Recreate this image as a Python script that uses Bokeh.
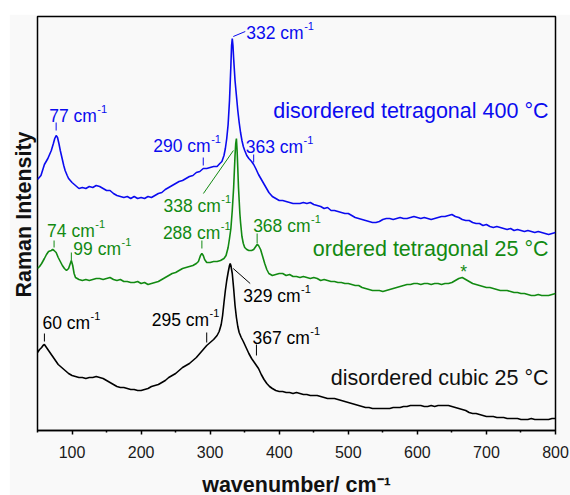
import numpy as np
from bokeh.plotting import figure
from bokeh.models import Range1d, FixedTicker, Label, Title
from bokeh.embed import file_html
from bokeh.resources import INLINE

# ---------------- data ----------------
tail_wn = list(range(405, 801, 5))

blue_wn = [50, 55, 60, 65, 70, 73, 75, 77, 79, 81, 83, 85, 88, 90, 93, 95, 100, 105, 110, 115,
           120, 125, 130, 135, 140, 145, 150, 155, 160, 165, 170, 175, 180, 185, 190, 195, 200,
           205, 210, 215, 220, 225, 230, 235, 240, 245, 250, 255, 260, 265, 270, 275, 280, 285,
           290, 295, 300, 305, 310, 314, 317, 320, 322, 324, 326, 328, 330, 331, 332, 333, 334,
           336, 338, 340, 342, 344, 346, 348, 350, 353, 356, 360, 363, 366, 370, 375, 380, 385,
           390, 395, 400] + tail_wn
blue_int = [251, 255, 266, 272, 280, 287, 292, 295, 293, 287, 280, 274, 265, 260, 255, 252, 248,
            245, 242, 243, 242, 244, 243, 245, 244, 242, 240, 240, 237, 235, 234, 233, 234, 232,
            234, 232, 233, 232, 234, 233, 235, 237, 238, 241, 243, 245, 247, 249, 250, 252, 254,
            255, 258, 259, 262, 262, 263, 264, 264, 267, 269, 275, 282, 292, 306, 330, 365, 385,
            392, 385, 372, 350, 335, 320, 308, 298, 290, 284, 280, 275, 272, 269, 266, 262, 256,
            250, 244, 238, 234, 232, 230,
            230, 229, 228, 227, 227, 227, 228, 227, 228, 226, 225, 224, 222, 223, 220, 220, 219,
            218, 217, 217, 215, 213, 212, 211, 210, 209, 208, 208, 209, 211, 212, 212, 211, 212,
            213, 212, 212, 213, 214, 213, 212, 213, 212, 211, 212, 213, 214, 214, 215, 216, 214,
            213, 211, 210, 210, 208, 207, 207, 205, 206, 204, 203, 204, 203, 202, 201, 202, 200,
            201, 200, 199, 200, 199, 198, 199, 198, 197, 196, 197, 198]

green_wn = [50, 53, 56, 60, 63, 66, 70, 72, 74, 77, 80, 83, 86, 89, 92, 95, 97, 99, 101, 103, 105,
            110, 115, 120, 125, 130, 135, 140, 145, 150, 155, 160, 165, 170, 175, 180, 185, 190,
            195, 200, 205, 210, 215, 220, 225, 230, 235, 240, 245, 250, 255, 260, 265, 270, 275,
            280, 283, 286, 288, 290, 292, 295, 300, 305, 310, 315, 320, 323, 326, 328, 330, 332,
            334, 336, 337, 338, 339, 340, 341, 342, 343, 344, 346, 348, 350, 353, 356, 360, 363,
            366, 368, 370, 373, 376, 379, 382, 385, 390, 395, 400] + tail_wn
green_int = [162, 164, 167, 172, 176, 179, 180, 181, 180, 178, 173, 169, 165, 162, 160, 162, 166,
             170, 165, 157, 153, 151, 150, 151, 150, 151, 152, 152, 151, 152, 153, 151, 150, 151,
             149, 149, 148, 148, 149, 147, 148, 146, 147, 148, 149, 151, 153, 155, 157, 158, 160,
             162, 163, 164, 165, 167, 169, 175, 177, 175, 171, 168, 168, 169, 169, 170, 172, 175,
             183, 192, 202, 220, 243, 275, 287, 292, 280, 262, 243, 230, 217, 208, 194, 187, 183,
             181, 180, 180, 181, 184, 186, 185, 181, 174, 167, 161, 157, 155, 156, 157,
             157, 155, 156, 154, 154, 153, 154, 153, 152, 153, 152, 150, 151, 150, 149, 149, 148,
             148, 147, 147, 146, 145, 145, 143, 142, 141, 140, 140, 140, 139, 140, 141, 142, 143,
             144, 145, 146, 146, 147, 147, 146, 147, 147, 146, 147, 147, 146, 147, 147, 148, 150,
             152, 153, 151, 149, 147, 146, 145, 144, 143, 143, 142, 141, 140, 140, 140, 139, 138,
             138, 137, 137, 136, 135, 135, 136, 135, 135, 135, 136, 137]

black_wn = [50, 53, 56, 58, 60, 62, 65, 68, 71, 74, 77, 80, 85, 90, 95, 100, 105, 110, 115, 120,
            125, 130, 135, 140, 145, 150, 155, 160, 165, 170, 175, 180, 185, 190, 195, 200, 205,
            210, 215, 220, 225, 230, 235, 240, 245, 250, 255, 260, 265, 270, 275, 280, 285, 290,
            295, 300, 305, 310, 313, 316, 318, 320, 322, 324, 326, 328, 329, 330, 332, 334, 336,
            338, 340, 342, 345, 348, 352, 356, 360, 363, 366, 370, 374, 378, 382, 386, 390, 395,
            400] + tail_wn
black_int = [78, 81, 83, 85, 86, 84, 81, 78, 75, 72, 69, 66, 63, 60, 57, 55, 54, 53, 53, 52, 53,
             53, 54, 53, 52, 50, 48, 46, 44, 43, 43, 42, 41, 41, 40, 40, 41, 42, 44, 45, 46, 48,
             50, 53, 55, 57, 60, 63, 65, 67, 70, 73, 77, 81, 85, 88, 91, 95, 99, 106, 115, 128,
             140, 150, 158, 165, 167, 165, 157, 142, 125, 113, 104, 98, 93, 89, 83, 77, 72, 69,
             66, 62, 56, 51, 47, 44, 42, 40, 39,
             39, 38, 38, 37, 38, 37, 36, 36, 35, 35, 35, 34, 33, 32, 32, 32, 31, 30, 29, 28, 27,
             26, 25, 24, 23, 23, 22, 22, 22, 22, 22, 22, 23, 23, 23, 24, 24, 25, 25, 25, 25, 24,
             24, 25, 24, 25, 25, 25, 25, 24, 23, 22, 21, 20, 18, 17, 17, 16, 15, 14, 14, 14, 13,
             13, 13, 12, 12, 12, 12, 11, 11, 11, 12, 11, 11, 11, 11, 11, 12, 12]

blue_peaks = [77, 290, 332, 363]
green_peaks = [74, 99, 288, 338, 368]
black_peaks = [60, 295, 329, 367]
impurity_peak = 667
series_names = ["disordered tetragonal 400 °C", "ordered tetragonal 25 °C", "disordered cubic 25 °C"]
x_ticks = [100, 200, 300, 400, 500, 600, 700, 800]
x_minor = [50, 150, 250, 350, 450, 550, 650, 750]
x_title = "wavenumber/ cm⁻¹"
y_title = "Raman Intensity"

# ---------------- styling / layout ----------------
BLUE = "#0b0bef"
GREEN = "#128a12"
BLACK = "#000000"
FONT = "Liberation Sans"
FW, FH = 518, 414                 # frame size in px
X0, X1 = 50, 800
XS = (X1 - X0) / FW               # wavenumber per pixel
ANN = 17.5                        # annotation font size
SUP = 11                          # superscript font size
SER = 21.5                        # series label font size

W_ARIAL = {"0": .556, "1": .556, "2": .556, "3": .556, "4": .556, "5": .556, "6": .556,
           "7": .556, "8": .556, "9": .556, " ": .278, "c": .5, "m": .833, "-": .333}


def tw(s, size, table=W_ARIAL):
    return sum(table.get(ch, .556) for ch in s) * size


p = figure(frame_width=FW, frame_height=FH, output_backend="svg", toolbar_location=None,
           x_range=Range1d(X0, X1), y_range=Range1d(0, FH),
           y_axis_location=None, margin=(14, 0, 0, 9),
           min_border_left=28, min_border_right=15, min_border_top=2, min_border_bottom=10)
p.background_fill_color = "#f9f9f9"
p.border_fill_color = "#f9f9f9"
p.outline_line_color = "black"
p.outline_line_width = 1.5
p.xgrid.visible = False
p.ygrid.visible = False

ax = p.xaxis[0]
ax.ticker = FixedTicker(ticks=x_ticks, minor_ticks=x_minor)
ax.axis_line_width = 1.5
ax.axis_line_color = "black"
ax.major_tick_line_width = 1.5
ax.minor_tick_line_width = 1.5
ax.major_tick_in = 0
ax.major_tick_out = 4
ax.minor_tick_in = 0
ax.minor_tick_out = 2
ax.major_label_text_font = FONT
ax.major_label_text_font_size = "16px"
ax.major_label_text_color = "#1a1a1a"
ax.major_label_standoff = 11
ax.axis_label = x_title
ax.axis_label_text_font = FONT
ax.axis_label_text_font_size = "21.5px"
ax.axis_label_text_font_style = "bold"
ax.axis_label_text_color = "#111111"
ax.axis_label_standoff = 12

yt = Title(text=y_title, align="left", vertical_align="top", text_font=FONT,
           text_font_size="21.5px", text_font_style="bold", text_color="#111111",
           standoff=0, offset=133)
p.add_layout(yt, "left")

p.line(blue_wn, blue_int, line_color=BLUE, line_width=1.6)
p.line(green_wn, green_int, line_color=GREEN, line_width=1.6)
p.line(black_wn, black_int, line_color=BLACK, line_width=1.6)


def txt(x, y, text, size, color, align="left"):
    p.add_layout(Label(x=x, y=y, text=text, text_font=FONT, text_font_size=f"{size}px",
                       text_color=color, text_align=align, text_baseline="middle"))


# annotation layout: ("tick", dx_px, dy_px, gap, length) or ("lead", dx, dy, lx0, ly0, lx1, ly1)
layout = {
    ("b", 77): ("tick", -7, 20, 5, 8),
    ("b", 290): ("tick", -50, 23, 3, 8),
    ("b", 332): ("lead", 14, 6, 1, 2, 13, 7),
    ("b", 363): ("tick", -8, 18, 2, 8),
    ("g", 74): ("tick", -7, 20, 3, 7),
    ("g", 99): ("tick", 2, 12, 0, 8),
    ("g", 288): ("tick", -39, 21, 5, 8),
    ("g", 338): ("lead", -73, -67, -33, -55, -3, -12),
    ("g", 368): ("tick", -4, 19, 1, 10),
    ("k", 60): ("tick", -2, 22, 3, 8),
    ("k", 295): ("tick", -55, 26, 3, 10),
    ("k", 329): ("lead", 13, -32, 3, -5, 20, -20),
    ("k", 367): ("tick", -4, 28, 10, 11),
}


def annotate(key, wn, inten, peaks, color):
    for pk in peaks:
        hp = float(np.interp(pk, wn, inten))
        spec = layout[(key, pk)]
        if spec[0] == "tick":
            _, dx, dy, gap, ln = spec
            p.segment(x0=[pk], y0=[hp + gap], x1=[pk], y1=[hp + gap + ln],
                      line_color=color, line_width=1)
        else:
            _, dx, dy, lx0, ly0, lx1, ly1 = spec
            p.segment(x0=[pk + lx0 * XS], y0=[hp + ly0], x1=[pk + lx1 * XS], y1=[hp + ly1],
                      line_color=color, line_width=1)
        tx, ty = pk + dx * XS, hp + dy
        main = f"{pk} cm"
        txt(tx, ty, main, ANN, color)
        txt(tx + (tw(main, ANN) + 0.5) * XS, ty + 7, "-1", SUP, color)


annotate("b", blue_wn, blue_int, blue_peaks, BLUE)
annotate("g", green_wn, green_int, green_peaks, GREEN)
annotate("k", black_wn, black_int, black_peaks, BLACK)

# impurity asterisk
h_imp = float(np.interp(impurity_peak, green_wn, green_int))
txt(impurity_peak, h_imp + 6, "*", ANN, GREEN, align="center")

# series labels (right aligned near the right frame edge)
xr = X1 - 7 * XS
txt(xr, 320, series_names[0], SER, BLUE, align="right")
txt(xr, 182, series_names[1], SER, GREEN, align="right")
txt(xr, 53, series_names[2], SER, "#111111", align="right")

open("out.html", "w").write(file_html(p, INLINE))
